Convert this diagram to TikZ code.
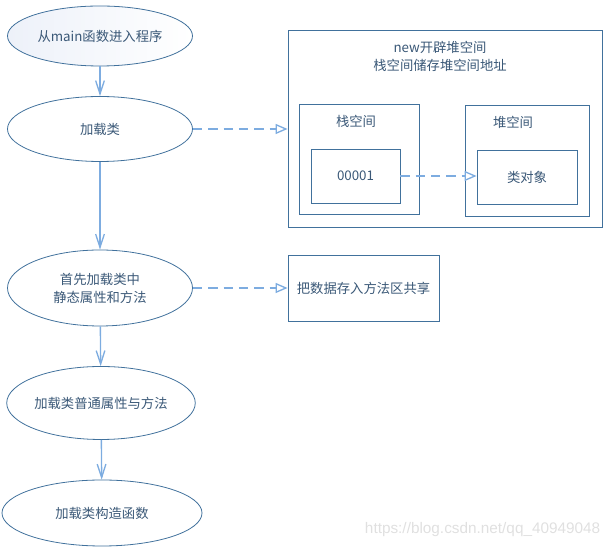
\documentclass[tikz,border=0pt]{standalone}
\usepackage{fontspec}
\setmainfont{Noto Sans CJK SC}
\newfontfamily\markfont{Liberation Sans}
\usetikzlibrary{shapes.geometric,arrows.meta}
\definecolor{lineblue}{HTML}{41719C}
\definecolor{arrowblue}{HTML}{7DACE0}
\definecolor{textblue}{HTML}{3A5877}
\definecolor{palefill}{HTML}{EDF1F9}
\tikzset{
  stepell/.style={ellipse, draw=lineblue, line width=0.6pt, inner sep=0pt,
    text=textblue, align=center, font=\fontsize{10}{13.5}\selectfont},
  roombox/.style={rectangle, draw=lineblue, line width=0.6pt, inner sep=0pt,
    text=textblue, align=center, font=\fontsize{10}{13.5}\selectfont},
  flow/.style={draw=arrowblue, line width=1pt,
    -{Straight Barb[length=10pt, width=6.5pt]}},
  refer/.style={draw=arrowblue, line width=1pt, dash pattern=on 7pt off 4.5pt,
    -{Triangle[open, length=9pt, width=7.5pt]}},
  tag/.style={text=textblue, font=\fontsize{10}{13.5}\selectfont, align=center}
}
\begin{document}
\begin{tikzpicture}[x=0.75pt, y=-0.75pt]
\useasboundingbox (0,0) rectangle (608,548);
% left column
\node[stepell, left color=palefill, right color=white, minimum width=138.75pt, minimum height=45pt] (start) at (100,36) {从main函数进入程序};
\node[stepell, minimum width=138.75pt, minimum height=48.75pt] (load) at (100,129) {加载类};
\node[stepell, minimum width=138.75pt, minimum height=57pt] (static) at (100,288) {首先加载类中\\静态属性和方法};
\node[stepell, minimum width=140pt, minimum height=54.75pt] (plain) at (101,403) {加载类普通属性与方法};
\node[stepell, minimum width=150pt, minimum height=49.5pt] (ctor) at (102,513) {加载类构造函数};
\draw[flow] (start) -- (load);
\draw[flow] (load) -- (static);
\draw[flow] (static) -- (plain);
\draw[flow] (plain) -- (ctor);
% heap / stack
\node[roombox, minimum width=235.5pt, minimum height=147.75pt] (memory) at (445,128.5) {};
\node[tag] (memtext) at (440,56) {new开辟堆空间\\栈空间储存堆空间地址};
\node[roombox, minimum width=90pt, minimum height=82.5pt] (stack) at (359,159) {};
\node[tag] (stacktext) at (356,121) {栈空间};
\node[roombox, minimum width=66.75pt, minimum height=40.5pt] (addr) at (355.5,176) {00001};
\node[roombox, minimum width=93pt, minimum height=83.25pt] (heap) at (527,160.5) {};
\node[tag] (heaptext) at (513,122) {堆空间};
\node[roombox, minimum width=75pt, minimum height=40.5pt] (obj) at (527,177) {类对象};
\draw[refer] (load.east) -- (load.east -| memory.west);
\draw[refer] (addr.east) -- (addr.east -| obj.west);
% method area
\node[roombox, minimum width=113.25pt, minimum height=49.5pt] (share) at (363.5,288) {把数据存入方法区共享};
\draw[refer] (static.east) -- (share.west);
% watermark
\node[text=black!12, font=\markfont\fontsize{11.5}{13}\selectfont, anchor=east] (mark) at (605,530) {https://blog.csdn.net/qq\_40949048};
\end{tikzpicture}
\end{document}
